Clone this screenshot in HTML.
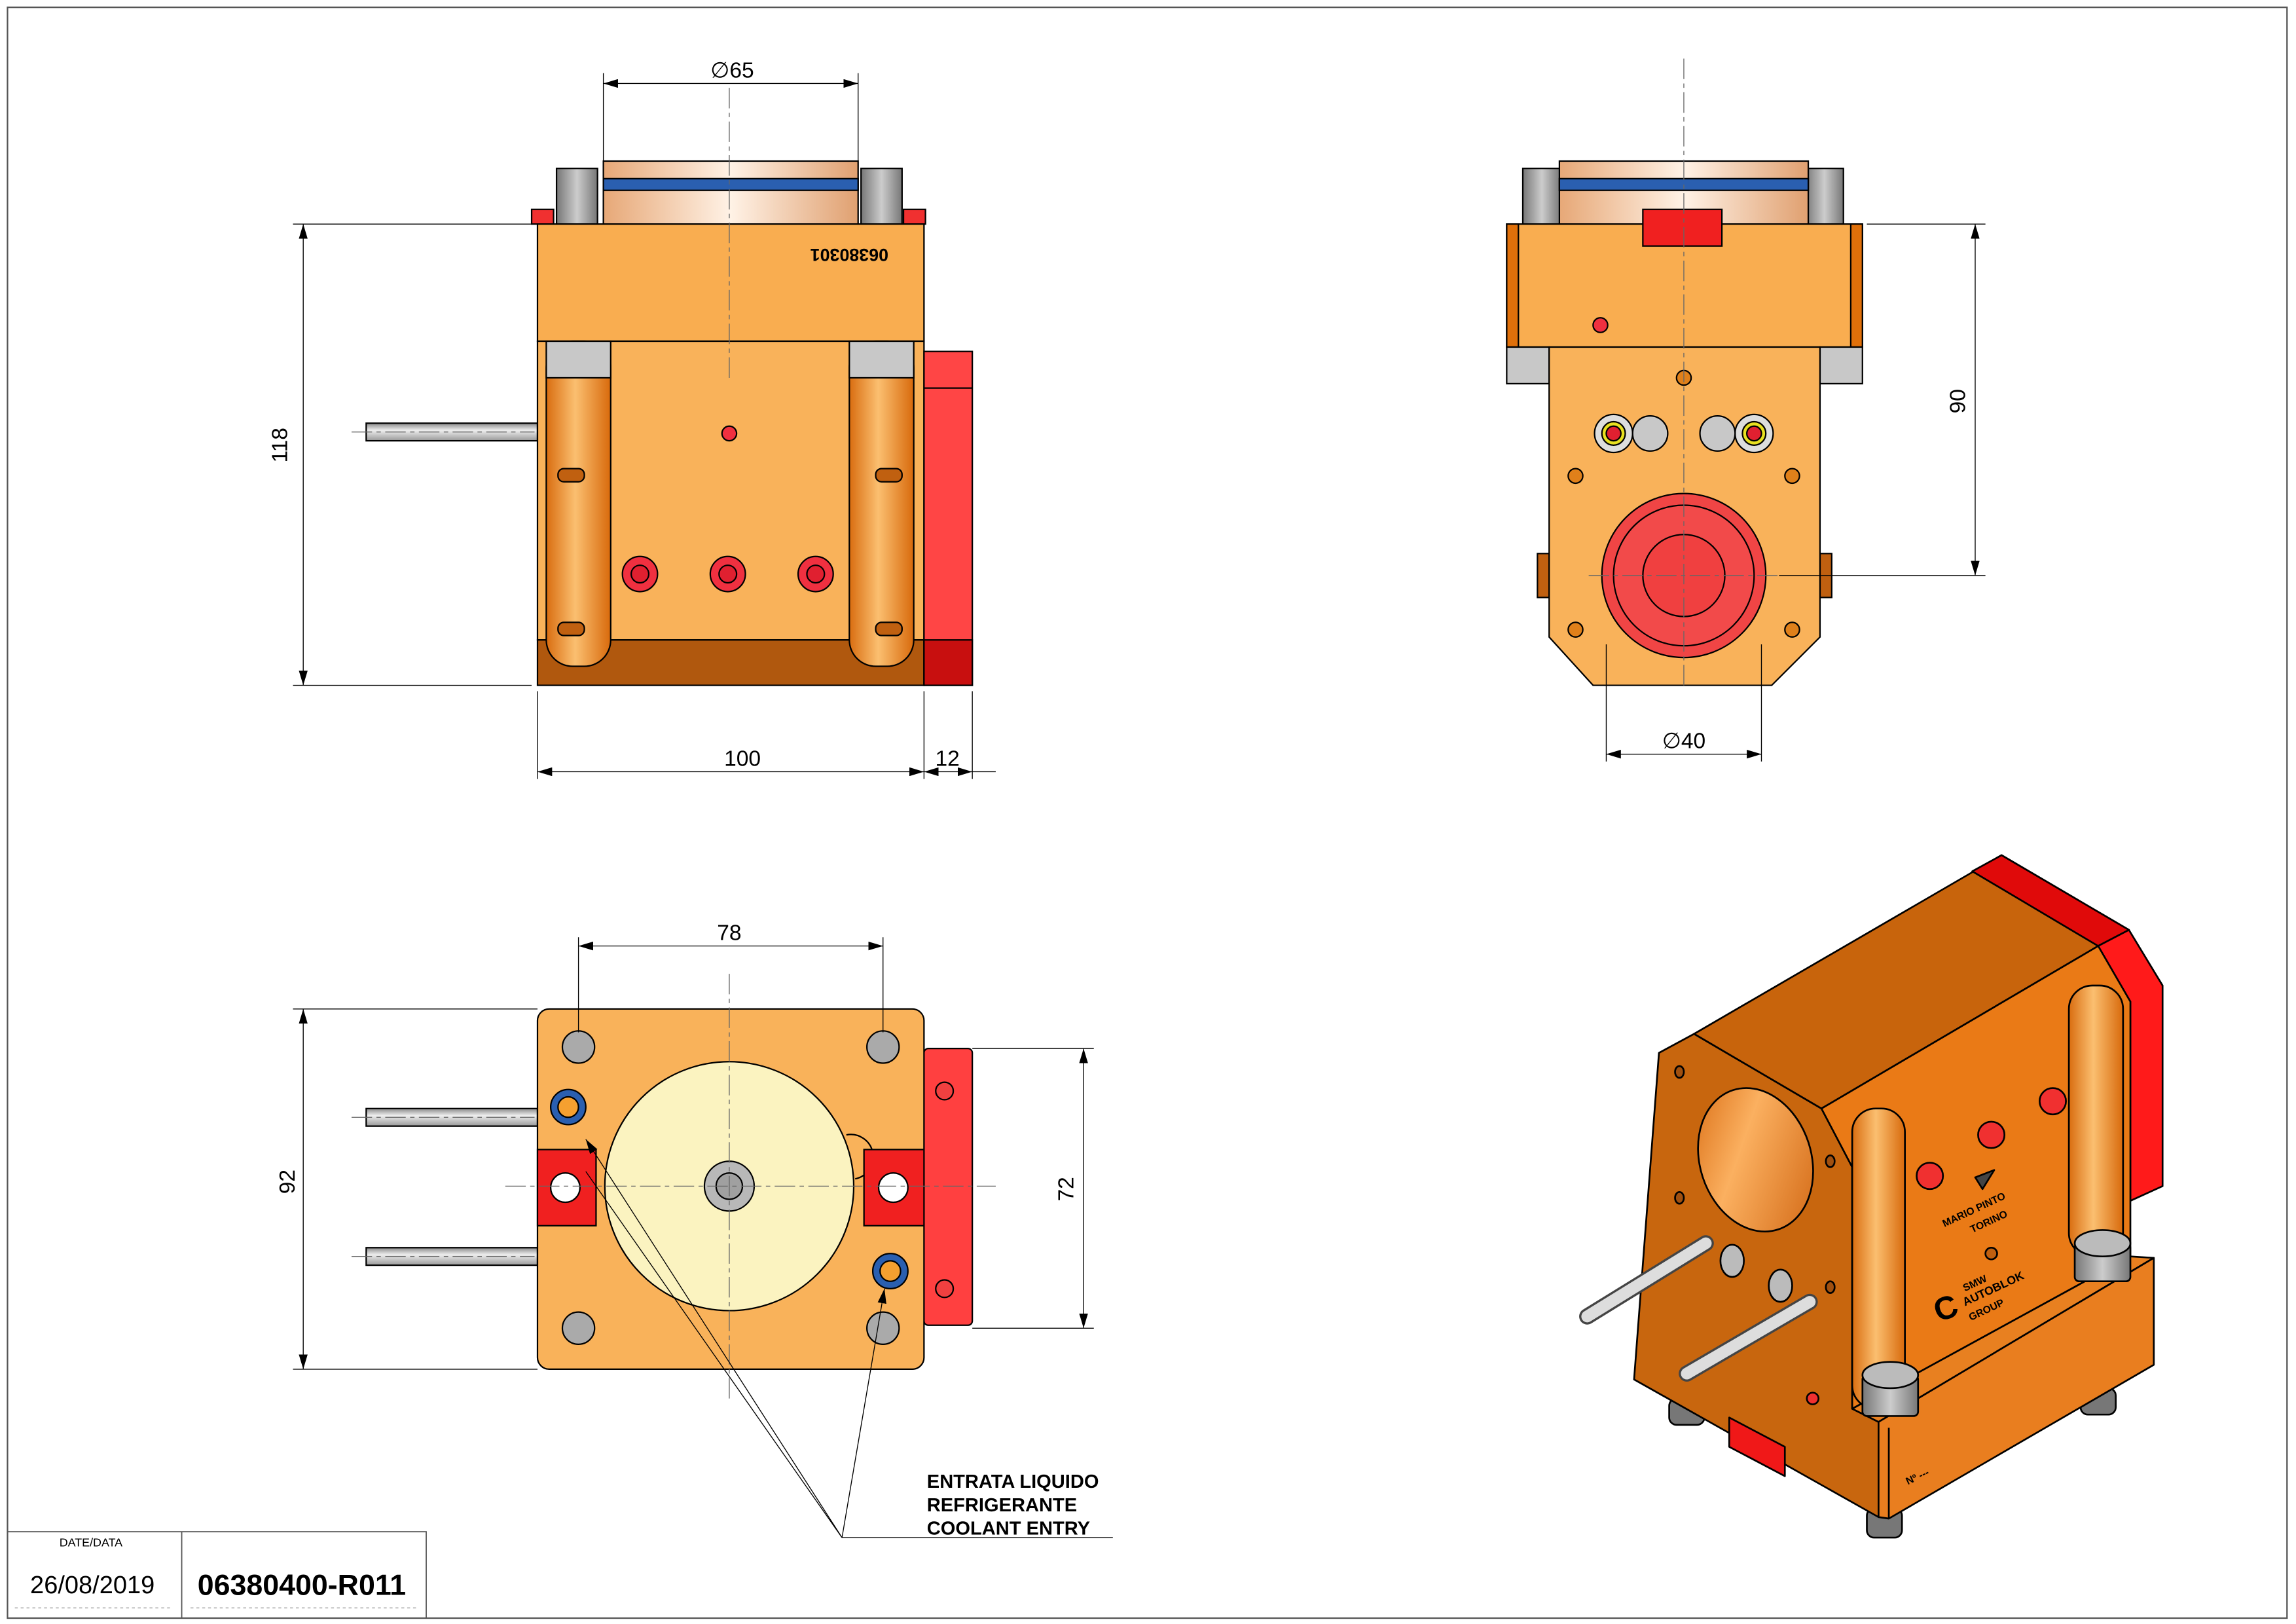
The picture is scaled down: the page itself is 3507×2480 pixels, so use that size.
<!DOCTYPE html>
<html><head><meta charset="utf-8"><style>
html,body{margin:0;padding:0;background:#fff}
svg{display:block}
text{font-family:"Liberation Sans",sans-serif}
</style></head><body>
<svg width="3507" height="2480" viewBox="0 0 1568 1109" xmlns="http://www.w3.org/2000/svg">
<defs>
<linearGradient id="post" x1="0" x2="1"><stop offset="0" stop-color="#d96d10"/><stop offset=".45" stop-color="#fbbf70"/><stop offset="1" stop-color="#d86a0c"/></linearGradient>
<linearGradient id="cyl" x1="0" x2="1"><stop offset="0" stop-color="#e7a877"/><stop offset=".5" stop-color="#fff2e6"/><stop offset="1" stop-color="#e0a070"/></linearGradient>
<linearGradient id="rod" x1="0" y1="0" x2="0" y2="1"><stop offset="0" stop-color="#888"/><stop offset=".4" stop-color="#eee"/><stop offset="1" stop-color="#999"/></linearGradient>
<linearGradient id="scr" x1="0" x2="1"><stop offset="0" stop-color="#777"/><stop offset=".5" stop-color="#ccc"/><stop offset="1" stop-color="#777"/></linearGradient>
<linearGradient id="hole" x1="0" y1="0" x2="1" y2="1"><stop offset="0" stop-color="#d86a10"/><stop offset=".4" stop-color="#fbb060"/><stop offset="1" stop-color="#d06410"/></linearGradient>
<marker id="ar" markerWidth="10" markerHeight="6" refX="10" refY="3" orient="auto-start-reverse" markerUnits="userSpaceOnUse"><path d="M0,0 L10,3 L0,6z" fill="#000"/></marker>
</defs>
<rect x="0" y="0" width="1568" height="1109" fill="#fff"/>
<rect x="5" y="5" width="1557" height="1100" fill="none" stroke="#555" stroke-width="1"/>

<!-- title block -->
<rect x="5" y="1046" width="286" height="59" fill="none" stroke="#555" stroke-width=".8"/>
<line x1="124" y1="1046" x2="124" y2="1105" stroke="#555" stroke-width=".8"/>
<text x="62" y="1056" font-size="8" text-anchor="middle">DATE/DATA</text>
<text x="63" y="1088" font-size="17" text-anchor="middle">26/08/2019</text>
<text x="206" y="1089" font-size="20" font-weight="bold" text-anchor="middle">06380400-R011</text>
<line x1="10" y1="1098" x2="118" y2="1098" stroke="#999" stroke-dasharray="2,2" stroke-width=".6"/>
<line x1="130" y1="1098" x2="286" y2="1098" stroke="#999" stroke-dasharray="2,2" stroke-width=".6"/>

<g stroke="#000" stroke-width="1">
<!-- ========== FRONT VIEW ========== -->
<rect x="250" y="289" width="117" height="12" fill="url(#rod)"/>
<rect x="380" y="115" width="28" height="38" fill="url(#scr)"/>
<rect x="588" y="115" width="28" height="38" fill="url(#scr)"/>
<rect x="412" y="110" width="174" height="43" fill="url(#cyl)"/>
<rect x="412" y="122" width="174" height="8" fill="#2a5fb0"/>
<rect x="363" y="143" width="15" height="10" fill="#f03030"/>
<rect x="617" y="143" width="15" height="10" fill="#f03030"/>
<rect x="367" y="153" width="264" height="80" fill="#f9ad50"/>
<rect x="367" y="233" width="264" height="204" fill="#f9b25a"/>
<rect x="367" y="437" width="264" height="31" fill="#b0580e"/>
<rect x="373" y="233" width="44" height="222" rx="18" fill="url(#post)"/>
<rect x="580" y="233" width="44" height="222" rx="18" fill="url(#post)"/>
<rect x="373" y="233" width="44" height="25" fill="#c8c8c8"/>
<rect x="580" y="233" width="44" height="25" fill="#c8c8c8"/>
<rect x="631" y="240" width="33" height="228" fill="#ff4545"/>
<rect x="631" y="437" width="33" height="31" fill="#c80f0f"/>
<line x1="631" y1="265" x2="664" y2="265"/>
<circle cx="437" cy="392" r="12" fill="#f03040"/><circle cx="497" cy="392" r="12" fill="#f03040"/><circle cx="557" cy="392" r="12" fill="#f03040"/>
<circle cx="437" cy="392" r="6" fill="#e02030"/><circle cx="497" cy="392" r="6" fill="#e02030"/><circle cx="557" cy="392" r="6" fill="#e02030"/>
<circle cx="498" cy="296" r="5" fill="#f03040"/>
<rect x="381" y="320" width="18" height="9" rx="4" fill="#c06010"/><rect x="598" y="320" width="18" height="9" rx="4" fill="#c06010"/>
<rect x="381" y="425" width="18" height="9" rx="4" fill="#c06010"/><rect x="598" y="425" width="18" height="9" rx="4" fill="#c06010"/>

<!-- ========== RIGHT VIEW ========== -->
<rect x="1040" y="115" width="26" height="38" fill="url(#scr)"/>
<rect x="1233" y="115" width="26" height="38" fill="url(#scr)"/>
<rect x="1065" y="110" width="170" height="43" fill="url(#cyl)"/>
<rect x="1065" y="122" width="170" height="8" fill="#2a5fb0"/>
<rect x="1029" y="153" width="243" height="84" fill="#f9ad50"/>
<rect x="1029" y="153" width="8" height="84" fill="#e0700a"/>
<rect x="1264" y="153" width="8" height="84" fill="#e0700a"/>
<rect x="1122" y="143" width="54" height="25" fill="#f02020"/>
<rect x="1029" y="237" width="29" height="25" fill="#c8c8c8"/>
<rect x="1243" y="237" width="29" height="25" fill="#c8c8c8"/>
<rect x="1050" y="378" width="8" height="30" fill="#c06010"/>
<rect x="1243" y="378" width="8" height="30" fill="#c06010"/>
<path d="M1058,237 H1243 V435 L1210,468 H1088 L1058,435 Z" fill="#f9b25a"/>
<circle cx="1150" cy="393" r="56" fill="#f04545"/>
<circle cx="1150" cy="393" r="48" fill="#f24a4a"/>
<circle cx="1150" cy="393" r="28" fill="#f04040"/>
<circle cx="1102" cy="296" r="13" fill="#ddd"/><circle cx="1102" cy="296" r="8" fill="#e8e020"/><circle cx="1102" cy="296" r="5" fill="#e02030"/>
<circle cx="1198" cy="296" r="13" fill="#ddd"/><circle cx="1198" cy="296" r="8" fill="#e8e020"/><circle cx="1198" cy="296" r="5" fill="#e02030"/>
<circle cx="1127" cy="296" r="12" fill="#c8c8c8"/><circle cx="1173" cy="296" r="12" fill="#c8c8c8"/>
<circle cx="1093" cy="222" r="5" fill="#f03040"/>
<circle cx="1076" cy="325" r="5" fill="#e0801a"/><circle cx="1224" cy="325" r="5" fill="#e0801a"/>
<circle cx="1076" cy="430" r="5" fill="#e0801a"/><circle cx="1224" cy="430" r="5" fill="#e0801a"/>
<circle cx="1150" cy="258" r="5" fill="#e0801a"/>

<!-- ========== BOTTOM VIEW ========== -->
<rect x="250" y="757" width="117" height="12" fill="url(#rod)"/>
<rect x="250" y="852" width="117" height="12" fill="url(#rod)"/>
<rect x="631" y="716" width="33" height="189" rx="3" fill="#ff4040"/>
<rect x="367" y="689" width="264" height="246" rx="8" fill="#f9b25a"/>
<circle cx="498" cy="810" r="85" fill="#fbf3c0"/>
<path d="M578,775 a10,10 0 0 1 6,30" fill="none"/>
<circle cx="498" cy="810" r="17" fill="#b8b8b8"/>
<circle cx="498" cy="810" r="9" fill="#a0a0a0"/>
<rect x="367" y="785" width="40" height="52" fill="#f02020"/>
<rect x="590" y="785" width="41" height="52" fill="#f02020"/>
<circle cx="386" cy="811" r="10" fill="#fff"/><circle cx="610" cy="811" r="10" fill="#fff"/>
<circle cx="395" cy="715" r="11" fill="#aaa"/><circle cx="603" cy="715" r="11" fill="#aaa"/>
<circle cx="395" cy="907" r="11" fill="#aaa"/><circle cx="603" cy="907" r="11" fill="#aaa"/>
<circle cx="388" cy="756" r="12" fill="#2a5fb0"/><circle cx="388" cy="756" r="7" fill="#f5a030"/>
<circle cx="608" cy="868" r="12" fill="#2a5fb0"/><circle cx="608" cy="868" r="7" fill="#f5a030"/>
<circle cx="645" cy="745" r="6" fill="#f04040"/><circle cx="645" cy="880" r="6" fill="#f04040"/>
</g>

<!-- center lines -->
<g stroke="#666" stroke-width=".6" stroke-dasharray="14,3,3,3" fill="none">
<line x1="498" y1="60" x2="498" y2="260"/>
<line x1="1150" y1="40" x2="1150" y2="470"/>
<line x1="1085" y1="393" x2="1215" y2="393"/>
<line x1="498" y1="665" x2="498" y2="955"/>
<line x1="345" y1="810" x2="680" y2="810"/>
<line x1="240" y1="295" x2="365" y2="295"/>
<line x1="240" y1="763" x2="365" y2="763"/>
<line x1="240" y1="858" x2="365" y2="858"/>
</g>

<!-- dimensions -->
<g stroke="#000" stroke-width=".6" fill="none">
<line x1="412" y1="110" x2="412" y2="50"/><line x1="586" y1="110" x2="586" y2="50"/>
<line x1="412" y1="57" x2="586" y2="57" marker-start="url(#ar)" marker-end="url(#ar)"/>
<line x1="363" y1="153" x2="200" y2="153"/><line x1="363" y1="468" x2="200" y2="468"/>
<line x1="207" y1="153" x2="207" y2="468" marker-start="url(#ar)" marker-end="url(#ar)"/>
<line x1="367" y1="472" x2="367" y2="532"/><line x1="631" y1="472" x2="631" y2="532"/><line x1="664" y1="472" x2="664" y2="532"/>
<line x1="367" y1="527" x2="631" y2="527" marker-start="url(#ar)" marker-end="url(#ar)"/>
<line x1="631" y1="527" x2="664" y2="527" marker-start="url(#ar)" marker-end="url(#ar)"/>
<line x1="664" y1="527" x2="680" y2="527"/>
<line x1="1275" y1="153" x2="1356" y2="153"/><line x1="1215" y1="393" x2="1356" y2="393"/>
<line x1="1349" y1="153" x2="1349" y2="393" marker-start="url(#ar)" marker-end="url(#ar)"/>
<line x1="1097" y1="440" x2="1097" y2="520"/><line x1="1203" y1="440" x2="1203" y2="520"/>
<line x1="1097" y1="515" x2="1203" y2="515" marker-start="url(#ar)" marker-end="url(#ar)"/>
<line x1="395" y1="705" x2="395" y2="640"/><line x1="603" y1="705" x2="603" y2="640"/>
<line x1="395" y1="646" x2="603" y2="646" marker-start="url(#ar)" marker-end="url(#ar)"/>
<line x1="367" y1="689" x2="200" y2="689"/><line x1="367" y1="935" x2="200" y2="935"/>
<line x1="207" y1="689" x2="207" y2="935" marker-start="url(#ar)" marker-end="url(#ar)"/>
<line x1="664" y1="716" x2="747" y2="716"/><line x1="664" y1="907" x2="747" y2="907"/>
<line x1="740" y1="716" x2="740" y2="907" marker-start="url(#ar)" marker-end="url(#ar)"/>
<line x1="575" y1="1050" x2="400" y2="778" marker-end="url(#ar)"/>
<line x1="575" y1="1050" x2="400" y2="800"/>
<line x1="575" y1="1050" x2="604" y2="880" marker-end="url(#ar)"/>
<line x1="575" y1="1050" x2="760" y2="1050"/>
</g>
<g font-size="15" text-anchor="middle">
<text x="500" y="53">∅65</text>
<text x="196" y="304" transform="rotate(-90 196 304)">118</text>
<text x="507" y="523">100</text>
<text x="647" y="523">12</text>
<text x="1342" y="274" transform="rotate(-90 1342 274)">90</text>
<text x="1150" y="511">∅40</text>
<text x="498" y="642">78</text>
<text x="201" y="807" transform="rotate(-90 201 807)">92</text>
<text x="733" y="812" transform="rotate(-90 733 812)">72</text>
</g>
<text x="580" y="178" font-size="12" font-weight="bold" text-anchor="middle" transform="rotate(180 580 174)">06380301</text>
<g font-size="13" font-weight="bold">
<text x="633" y="1016">ENTRATA LIQUIDO</text>
<text x="633" y="1032">REFRIGERANTE</text>
<text x="633" y="1048">COOLANT ENTRY</text>
</g>

<!-- ========== ISOMETRIC VIEW ========== -->
<g stroke="#000" stroke-width="1.2" stroke-linejoin="round">
<!-- feet -->
<rect x="1140" y="955" width="24" height="18" rx="5" fill="#777"/>
<rect x="1421" y="948" width="24" height="18" rx="5" fill="#777"/>
<rect x="1275" y="1030" width="24" height="20" rx="5" fill="#777"/>
<!-- front face -->
<polygon points="1133,719 1157,706 1244,757 1265,797 1265,962 1283,971 1283,1036 1116,942" fill="#c8660e"/>
<!-- top face -->
<polygon points="1157,706 1367,584 1454,635 1433,646 1244,757" fill="#c8640c"/>
<polygon points="1347,595 1367,584 1454,635 1433,646" fill="#e00a0a"/>
<polygon points="1433,646 1454,635 1477,673 1477,810 1455,820 1455,684" fill="#ff1a1a"/>
<!-- right face -->
<polygon points="1244,757 1433,646 1455,684 1455,858 1265,962 1265,797" fill="#ea7a16"/>
<!-- base top strip -->
<polygon points="1265,962 1455,858 1471,859 1283,971" fill="#e88020"/>
<!-- base right -->
<polygon points="1283,971 1471,859 1471,932 1290,1037 1283,1036" fill="#e97e1f"/>
<line x1="1290" y1="975" x2="1290" y2="1037"/>
<!-- hole -->
<ellipse cx="1199" cy="792" rx="38" ry="50" transform="rotate(-18 1199 792)" fill="url(#hole)"/>
<!-- posts -->
<rect x="1265" y="757" width="36" height="205" rx="16" fill="url(#post)"/>
<rect x="1413" y="673" width="37" height="185" rx="16" fill="url(#post)"/>
<!-- small holes -->
<ellipse cx="1147" cy="732" rx="3" ry="4" fill="#a05010"/>
<ellipse cx="1250" cy="793" rx="3" ry="4" fill="#a05010"/>
<ellipse cx="1147" cy="818" rx="3" ry="4" fill="#a05010"/>
<ellipse cx="1250" cy="879" rx="3" ry="4" fill="#a05010"/>
<circle cx="1238" cy="955" r="4" fill="#f03030"/>
<!-- red tab -->
<polygon points="1181,968 1219,988 1219,1008 1181,988" fill="#f01818"/>
<!-- bolts -->
<rect x="1272" y="939" width="38" height="28" rx="3" fill="url(#scr)"/>
<ellipse cx="1291" cy="939" rx="19" ry="9" fill="#bbb"/>
<rect x="1417" y="849" width="38" height="26" rx="3" fill="url(#scr)"/>
<ellipse cx="1436" cy="849" rx="19" ry="9" fill="#bbb"/>
<!-- washers -->
<ellipse cx="1183" cy="861" rx="8" ry="11" fill="#bbb"/>
<ellipse cx="1216" cy="878" rx="8" ry="11" fill="#bbb"/>
<!-- rods -->
<line x1="1084" y1="899" x2="1165" y2="849" stroke="#444" stroke-width="11" stroke-linecap="round"/>
<line x1="1084" y1="899" x2="1165" y2="849" stroke="#ddd" stroke-width="8" stroke-linecap="round"/>
<line x1="1152" y1="938" x2="1236" y2="889" stroke="#444" stroke-width="11" stroke-linecap="round"/>
<line x1="1152" y1="938" x2="1236" y2="889" stroke="#ddd" stroke-width="8" stroke-linecap="round"/>
<!-- red screws -->
<circle cx="1318" cy="803" r="9" fill="#f03030"/>
<circle cx="1360" cy="775" r="9" fill="#f03030"/>
<circle cx="1402" cy="752" r="9" fill="#f03030"/>
<circle cx="1360" cy="856" r="4" fill="#c06010"/>
<polygon points="1349,804 1362,799 1354,812" fill="#444"/>
</g>
<g font-size="7" font-weight="bold" fill="#000">
<text x="1328" y="838" transform="rotate(-25 1328 838)">MARIO PINTO</text>
<text x="1347" y="842" transform="rotate(-25 1347 842)">TORINO</text>
<text x="1324" y="903" font-size="22" transform="rotate(-20 1324 903)">C</text>
<text x="1342" y="882" transform="rotate(-25 1342 882)">SMW</text>
<text x="1342" y="892" font-size="8" transform="rotate(-25 1342 892)">AUTOBLOK</text>
<text x="1346" y="902" transform="rotate(-25 1346 902)">GROUP</text>
<text x="1303" y="1014" transform="rotate(-25 1303 1014)">Nº ---</text>
</g>
</svg>
</body></html>
